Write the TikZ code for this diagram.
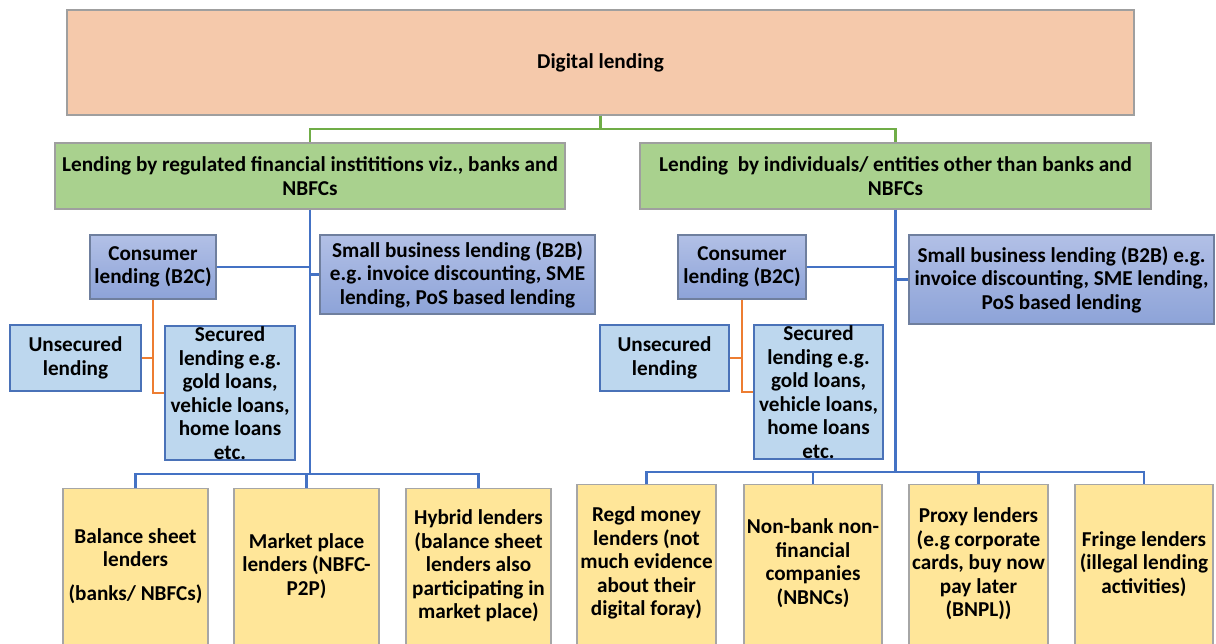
\documentclass[tikz,border=0pt]{standalone}
\usepackage{fontspec}
\setmainfont{Carlito}
\frenchspacing
\begin{document}
\begin{tikzpicture}[x=1pt,y=-1pt,
  every node/.style={font=\fontsize{21.2}{23.5}\selectfont\bfseries\frenchspacing, align=center, inner sep=0pt, text=black},
  box/.style={draw=#1, line width=1.1pt, rectangle},
  topbox/.style={box=gray!75, fill=peach},
  grnbox/.style={box=gray!75, fill=grn},
  bluebox/.style={box=bluebord, top color=bluetop, bottom color=bluebot},
  lbbox/.style={box=lbbord, line width=1.4pt, fill=lightblue},
  ylwbox/.style={box=gray!70, fill=ylw},
  gline/.style={draw=glinec, line width=2.4pt},
  bline/.style={draw=blinec, line width=2.4pt},
  oline/.style={draw=olinec, line width=2.4pt}
]
\definecolor{peach}{HTML}{F5C9AB}
\definecolor{grn}{HTML}{A9D18E}
\definecolor{bluetop}{HTML}{B2C0E6}
\definecolor{bluebot}{HTML}{8DA3D8}
\definecolor{bluebord}{HTML}{6F7F9E}
\definecolor{lightblue}{HTML}{BDD7EE}
\definecolor{lbbord}{HTML}{4A72B8}
\definecolor{ylw}{HTML}{FFE699}
\definecolor{glinec}{HTML}{70AD47}
\definecolor{blinec}{HTML}{4472C4}
\definecolor{olinec}{HTML}{ED7D31}

\useasboundingbox (0,0) rectangle (1216,644);
\clip (0,0) rectangle (1216,644);
\fill[white] (0,0) rectangle (1216,644);

% top
\node[topbox, minimum width=1067pt, minimum height=105pt] (top) at (600.5,62.5) {Digital lending};
% green level
\node[grnbox, minimum width=510pt, minimum height=66pt] (gL) at (310,176)
  {Lending by regulated financial instititions viz., banks and\\NBFCs};
\node[grnbox, minimum width=511pt, minimum height=66pt] (gR) at (895.5,176)
  {Lending\ \ by individuals/ entities other than banks and\\NBFCs};

% left branch
\node[bluebox, minimum width=126pt, minimum height=64pt] (consL) at (153,267) {Consumer\\lending (B2C)};
\node[bluebox, minimum width=275pt, minimum height=79pt] (b2bL) at (457.5,274.5)
  {Small business lending (B2B)\\e.g. invoice discounting, SME\\lending, PoS based lending};
\node[lbbox, minimum width=131pt, minimum height=66pt] (unsL) at (75.5,358) {Unsecured\\lending};
\node[lbbox, minimum width=130pt, minimum height=134pt] (secL) at (230,393) {};
\node (secLT) at (230,393) {Secured\\lending e.g.\\gold loans,\\vehicle loans,\\home loans\\etc.};

% right branch
\node[bluebox, minimum width=128pt, minimum height=64pt] (consR) at (742,267) {Consumer\\lending (B2C)};
\node[bluebox, minimum width=305pt, minimum height=89pt] (b2bR) at (1061.5,279.5)
  {Small business lending (B2B) e.g.\\invoice discounting, SME lending,\\PoS based lending};
\node[lbbox, minimum width=129pt, minimum height=66pt] (unsR) at (664.5,358) {Unsecured\\lending};
\node[lbbox, minimum width=129pt, minimum height=134pt] (secR) at (818.5,392) {};
\node (secRT) at (818.5,392) {Secured\\lending e.g.\\gold loans,\\vehicle loans,\\home loans\\etc.};

% bottom left boxes
\node[ylwbox, anchor=north, minimum width=145pt, minimum height=180pt] (bal) at (135.5,488) {};
\node[ylwbox, anchor=north, minimum width=145pt, minimum height=180pt] (mkt) at (306.5,488) {};
\node[ylwbox, anchor=north, minimum width=145pt, minimum height=180pt] (hyb) at (478.5,488) {};
\node (balT) at (135.5,566) {Balance sheet\\lenders\\[10pt](banks/ NBFCs)};
\node (mktT) at (306.5,566) {Market place\\lenders (NBFC-\\P2P)};
\node (hybT) at (478.5,566) {Hybrid lenders\\(balance sheet\\lenders also\\participating in\\market place)};

% bottom right boxes
\node[ylwbox, anchor=north, minimum width=139pt, minimum height=180pt] (rgd) at (646.5,484) {};
\node[ylwbox, anchor=north, minimum width=138pt, minimum height=180pt] (nbn) at (813,484) {};
\node[ylwbox, anchor=north, minimum width=139pt, minimum height=180pt] (prx) at (978.5,484) {};
\node[ylwbox, anchor=north, minimum width=138pt, minimum height=180pt] (frg) at (1144,484) {};
\node (rgdT) at (646.5,563) {Regd money\\lenders (not\\much evidence\\about their\\digital foray)};
\node (nbnT) at (813,563) {Non-bank non-\\financial\\companies\\(NBNCs)};
\node (prxT) at (978.5,564) {Proxy lenders\\(e.g corporate\\cards, buy now\\pay later\\(BNPL))};
\node (frgT) at (1144,564) {Fringe lenders\\(illegal lending\\activities)};

% junction coordinates
\coordinate (gj) at (600.5,129);
\coordinate (jL) at (310,474);
\coordinate (jR) at (895.5,472);

% green connectors
\draw[gline] (top.south) -- (gj) -| (gL.north);
\draw[gline] (gj) -| (gR.north);

% blue connectors left
\draw[bline] (gL.south) -- (jL);
\draw[bline] (bal.north) |- (jL) -| (hyb.north);
\draw[bline] (jL -| mkt.north) -- (mkt.north);
\draw[bline] (consL.east) -- (consL.east -| gL.south);
\draw[bline] (b2bL.west) -- (b2bL.west -| gL.south);

% blue connectors right
\draw[bline] (gR.south) -- (jR);
\draw[bline] (rgd.north) |- (jR) -| (frg.north);
\draw[bline] (jR -| nbn.north) -- (nbn.north);
\draw[bline] (jR -| prx.north) -- (prx.north);
\draw[bline] (consR.east) -- (consR.east -| gR.south);
\draw[bline] (b2bR.west) -- (b2bR.west -| gR.south);

% orange connectors
\draw[oline] (consL.south) |- (secL.west);
\draw[oline] (unsL.east) -- (unsL.east -| consL.south);
\draw[oline] (consR.south) |- (secR.west);
\draw[oline] (unsR.east) -- (unsR.east -| consR.south);
\end{tikzpicture}
\end{document}
